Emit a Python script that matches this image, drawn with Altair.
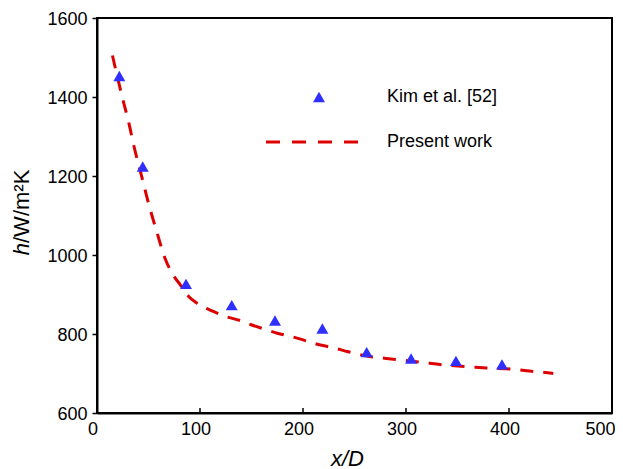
import altair as alt
import pandas as pd

# Kim et al. [52] (symbols)
kim_x = [21.7, 44.4, 86.4, 130.8, 172.8, 218.8, 261.8, 304.9, 348.5, 393.2]
kim_h = [1453, 1224, 927, 873, 834, 814, 754, 738, 732, 723]

# Present work (dashed curve)
present_x = [15, 24, 31, 36, 43, 50, 58, 66, 74, 81, 89, 97, 113, 123, 139, 149,
             163, 175, 191, 200, 217, 228, 244, 262, 281, 299, 310, 323, 336, 362,
             378, 408, 417, 433, 443]
present_h = [1505, 1405, 1333, 1274, 1203, 1131, 1059, 992, 949, 924, 895, 878,
             857, 846, 834, 824, 812, 802, 792, 785, 772, 766, 755, 744, 738, 733,
             730, 726, 722, 717, 714, 710, 707, 703, 700]

x_ticks = [0, 100, 200, 300, 400, 500]
y_ticks = [600, 800, 1000, 1200, 1400, 1600]
inner_x_ticks = [100, 200, 300, 400]

legend_labels = ["Kim et al. [52]", "Present work"]

W, H = 515, 395
FONT = "Liberation Sans"
RED = "#dd0000"
BLUE = "#2f2fff"

df_kim = pd.DataFrame({"x": kim_x, "h": kim_h})
df_line = pd.DataFrame({"x": present_x, "h": present_h})
df_ticks = pd.DataFrame({"x": inner_x_ticks})
one = pd.DataFrame({"k": [0]})

xs = alt.Scale(domain=[0, 500], nice=False, zero=False)
ys = alt.Scale(domain=[600, 1600], nice=False, zero=False)

x_axis = alt.Axis(
    title="x/D", titleFont=FONT, titleFontSize=22, titleFontStyle="italic",
    titleFontWeight="normal", titleColor="black", titlePadding=10,
    titleX=250, titleAlign="center",
    values=x_ticks, format="d", ticks=False, labelFont=FONT, labelFontSize=18,
    labelColor="black", labelPadding=7,
    labelOffset={"condition": {"test": "datum.value === 500", "value": 3}, "value": -4.5},
    labelAlign={"condition": {"test": "datum.value === 500", "value": "right"}, "value": "center"},
    domainColor="black", domainWidth=2,
    grid=False, labelFlush=False, labelOverlap=False,
)
y_axis = alt.Axis(
    title=None, values=y_ticks, format="d", tickSize=5, tickWidth=1.5,
    tickColor="black", labelFont=FONT, labelFontSize=18, labelColor="black",
    labelPadding=5, labelOffset=1, domainColor="black", domainWidth=2, grid=False,
    labelFlush=False, labelOverlap=False,
)

line = alt.Chart(df_line).mark_line(
    color=RED, strokeWidth=3, strokeDash=[13, 10], interpolate="monotone"
).encode(
    x=alt.X("x:Q", scale=xs, axis=x_axis),
    y=alt.Y("h:Q", scale=ys, axis=y_axis),
)

pts = alt.Chart(df_kim).mark_point(
    shape="triangle-up", filled=True, color=BLUE, opacity=1, size=144
).encode(
    x=alt.X("x:Q", scale=xs),
    y=alt.Y("h:Q", scale=ys),
)

ticks = alt.Chart(df_ticks).mark_rule(color="black", strokeWidth=1.5).encode(
    x=alt.X("x:Q", scale=xs),
    y=alt.value(H),
    y2=alt.value(H - 5),
)

leg_sym = alt.Chart(one).mark_point(
    shape="triangle-up", filled=True, color=BLUE, opacity=1, size=144
).encode(x=alt.value(222), y=alt.value(79))

leg_line = alt.Chart(one).mark_rule(
    color=RED, strokeWidth=3, strokeDash=[14, 12]
).encode(x=alt.value(169), x2=alt.value(268), y=alt.value(124))

leg_t1 = alt.Chart(one).mark_text(
    text=legend_labels[0], font=FONT, fontSize=18, align="left",
    baseline="middle", color="black"
).encode(x=alt.value(290), y=alt.value(79))

leg_t2 = alt.Chart(one).mark_text(
    text=legend_labels[1], font=FONT, fontSize=18, align="left",
    baseline="middle", color="black"
).encode(x=alt.value(290), y=alt.value(124))

ytitle_h = alt.Chart(one).mark_text(
    text="h", font=FONT, fontSize=22, fontStyle="italic", angle=270,
    align="right", baseline="middle", color="black"
).encode(x=alt.value(-75), y=alt.value(225))

ytitle_rest = alt.Chart(one).mark_text(
    text="/W/m²K", font=FONT, fontSize=22, angle=270,
    align="left", baseline="middle", color="black"
).encode(x=alt.value(-75), y=alt.value(225))

chart = alt.layer(
    line, pts, ticks, leg_sym, leg_line, leg_t1, leg_t2, ytitle_h, ytitle_rest
).properties(
    width=W, height=H,
    autosize=alt.AutoSizeParams(type="none"),
    padding={"left": 89, "top": 10, "right": 3, "bottom": 56},
    background="white",
).configure_view(
    stroke="black", strokeWidth=2
)

chart.save("out.html", embed_options={"renderer": "svg", "actions": False})
